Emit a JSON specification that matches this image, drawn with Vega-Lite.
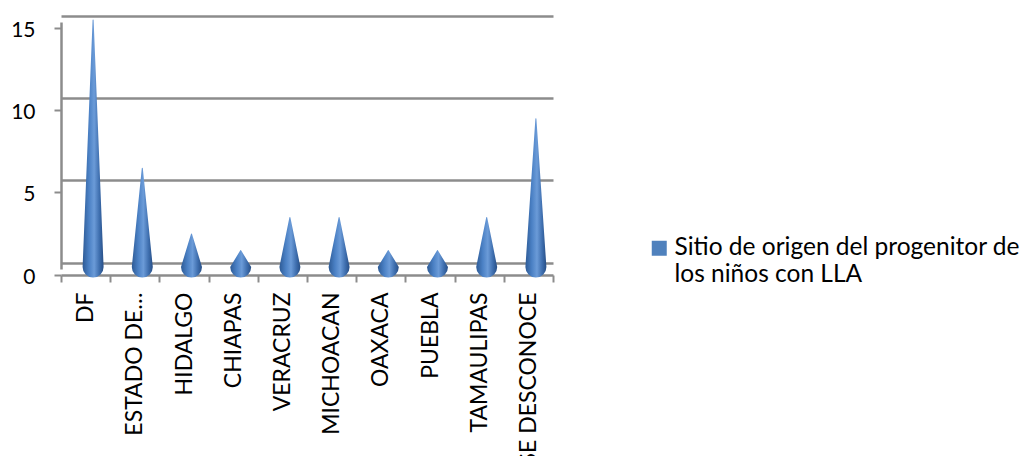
{
  "$schema": "https://vega.github.io/schema/vega-lite/v6.json",
  "width": 509,
  "height": 247,
  "autosize": {"type": "none"},
  "padding": {"left": 61, "top": 22, "right": 457, "bottom": 187},
  "background": "white",
  "config": {
    "view": {"stroke": null},
    "font": "Lato",
    "axis": {"labelFont": "Lato", "labelColor": "black"},
    "legend": {"labelFont": "Lato"}
  },
  "data": {
    "values": [
      {"estado": "DF", "valor": 15, "serie": "Sitio de origen del progenitor de los niños con LLA"},
      {"estado": "ESTADO DE…", "valor": 6, "serie": "Sitio de origen del progenitor de los niños con LLA"},
      {"estado": "HIDALGO", "valor": 2, "serie": "Sitio de origen del progenitor de los niños con LLA"},
      {"estado": "CHIAPAS", "valor": 1, "serie": "Sitio de origen del progenitor de los niños con LLA"},
      {"estado": "VERACRUZ", "valor": 3, "serie": "Sitio de origen del progenitor de los niños con LLA"},
      {"estado": "MICHOACAN", "valor": 3, "serie": "Sitio de origen del progenitor de los niños con LLA"},
      {"estado": "OAXACA", "valor": 1, "serie": "Sitio de origen del progenitor de los niños con LLA"},
      {"estado": "PUEBLA", "valor": 1, "serie": "Sitio de origen del progenitor de los niños con LLA"},
      {"estado": "TAMAULIPAS", "valor": 3, "serie": "Sitio de origen del progenitor de los niños con LLA"},
      {"estado": "SE DESCONOCE", "valor": 9, "serie": "Sitio de origen del progenitor de los niños con LLA"}
    ]
  },
  "resolve": {"axis": {"y": "independent"}},
  "layer": [
    {
      "transform": [
        {"stack": "valor", "groupby": ["estado"], "as": ["base", "punta"]},
        {"fold": ["base", "punta"], "as": ["extremo", "altura"]}
      ],
      "mark": {
        "type": "trail",
        "xOffset": 7.5,
        "yOffset": -2,
        "fill": {
          "gradient": "linear",
          "x1": 0, "x2": 1, "y1": 0, "y2": 0,
          "stops": [
            {"offset": 0, "color": "#2d5a95"},
            {"offset": 0.3, "color": "#4a80c4"},
            {"offset": 0.55, "color": "#6b9bd8"},
            {"offset": 0.8, "color": "#3e6eae"},
            {"offset": 1, "color": "#274e85"}
          ]
        }
      },
      "encoding": {
        "x": {
          "field": "estado", "type": "nominal", "sort": null,
          "scale": {"type": "band", "range": [0, 492], "paddingInner": 0, "paddingOuter": 0},
          "axis": {
            "orient": "bottom", "offset": 6, "title": null,
            "domainColor": "#8c8c8c", "domainWidth": 2.5,
            "tickBand": "extent", "tickColor": "#8c8c8c", "tickWidth": 2, "tickSize": 7,
            "labelAngle": -90, "labelAlign": "right", "labelBaseline": "middle",
            "labelPadding": 10, "labelFontSize": 23, "labelLimit": 400, "labelOverlap": false
          }
        },
        "y": {
          "field": "altura", "type": "quantitative",
          "scale": {"domain": [0, 15], "nice": false, "zero": true},
          "axis": {
            "orient": "left", "title": null, "values": [0, 5, 10, 15],
            "grid": true, "gridColor": "#8c8c8c", "gridWidth": 2.5, "tickOffset": -6.5,
            "domain": false, "ticks": false, "labels": false
          }
        },
        "size": {
          "field": "extremo", "type": "ordinal",
          "scale": {"domain": ["base", "punta"], "range": [21, 0]},
          "legend": null
        },
        "detail": {"field": "estado"},
        "order": {"field": "altura", "type": "quantitative"}
      }
    },
    {
      "mark": {"type": "point", "shape": "square", "filled": true, "opacity": 0},
      "encoding": {
        "x": {"field": "estado", "type": "nominal", "sort": null},
        "y": {
          "field": "valor", "type": "quantitative",
          "axis": {
            "orient": "left", "title": null, "values": [0, 5, 10, 15],
            "grid": false, "tickOffset": 5.5, "labelOffset": 2.5,
            "domain": true, "domainColor": "#8c8c8c", "domainWidth": 2.5,
            "ticks": true, "tickColor": "#8c8c8c", "tickWidth": 2, "tickSize": 7,
            "labelFontSize": 21, "labelPadding": 19
          }
        },
        "color": {
          "field": "serie", "type": "nominal",
          "scale": {"range": ["#4f81bd"]},
          "legend": {
            "title": null, "orient": "none", "legendX": 586, "legendY": 214,
            "padding": 0, "symbolType": "square", "symbolSize": 225,
            "symbolOpacity": 1, "symbolStrokeWidth": 0, "symbolFillColor": "#4f81bd",
            "labelFontSize": 24.5, "labelOffset": 3, "labelLimit": 500,
            "labelExpr": "[slice(datum.label, 0, 33), slice(datum.label, 34)]",
            "encoding": {
              "labels": {
                "enter": {"lineHeight": {"value": 31}},
                "update": {"lineHeight": {"value": 31}, "baseline": {"value": "alphabetic"}, "dy": {"value": 7}}
              }
            }
          }
        }
      }
    }
  ]
}
